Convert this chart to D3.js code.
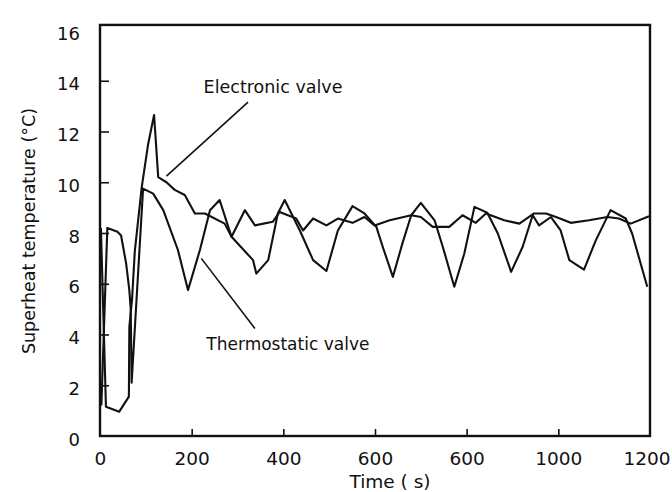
<!DOCTYPE html>
<html>
<head>
<meta charset="utf-8">
<script src="https://cdn.jsdelivr.net/npm/d3@7"></script>
<style>
  html, body { margin: 0; padding: 0; background: #ffffff; }
  svg { display: block; }
  text { font-family: "DejaVu Sans", sans-serif; fill: #111; }
</style>
</head>
<body>
<svg id="chart" width="672" height="492"></svg>
<script>
// ---- data ----
const electronicTime = [2, 13, 42, 63, 64, 70, 76, 91, 105, 118, 127, 145, 163, 185, 207, 229, 272, 287, 316, 338, 377, 392, 428, 443, 465, 494, 519, 551, 577, 599, 632, 679, 700, 726, 762, 791, 820, 842, 882, 915, 947, 973, 995, 1027, 1067, 1107, 1132, 1158, 1198];
const electronicTemp = [8.2, 1.15, 0.96, 1.55, 4.3, 5.4, 7.3, 9.8, 11.5, 12.65, 10.2, 10.0, 9.7, 9.5, 8.77, 8.77, 8.37, 7.85, 8.9, 8.3, 8.44, 8.83, 8.57, 8.1, 8.57, 8.3, 8.57, 8.4, 8.63, 8.3, 8.5, 8.7, 8.63, 8.24, 8.24, 8.7, 8.4, 8.77, 8.5, 8.37, 8.77, 8.77, 8.63, 8.4, 8.5, 8.63, 8.57, 8.37, 8.66];

const thermoTime = [3, 16, 38, 46, 57, 64, 67, 69, 94, 116, 138, 170, 192, 218, 240, 261, 287, 334, 341, 367, 388, 403, 436, 465, 494, 519, 551, 577, 603, 617, 639, 660, 679, 700, 730, 748, 773, 795, 817, 845, 868, 897, 922, 944, 958, 984, 1005, 1024, 1056, 1082, 1114, 1147, 1161, 1194];
const thermoTemp = [1.2, 8.2, 8.05, 7.9, 6.8, 5.75, 5.0, 2.1, 9.75, 9.55, 8.9, 7.33, 5.75, 7.33, 8.9, 9.3, 7.85, 6.93, 6.4, 6.93, 8.77, 9.3, 8.1, 6.93, 6.5, 8.1, 9.06, 8.77, 8.24, 7.45, 6.27, 7.6, 8.7, 9.19, 8.5, 7.45, 5.88, 7.2, 9.03, 8.8, 7.98, 6.47, 7.45, 8.7, 8.3, 8.63, 8.1, 6.93, 6.56, 7.72, 8.9, 8.57, 7.98, 5.88];

const xTickValues = [0, 200, 400, 600, 800, 1000, 1200];
const xTickLabels = ["0", "200", "400", "600", "600", "1000", "1200"];
const yTickValues = [0, 2, 4, 6, 8, 10, 12, 14, 16];

const xTitle = "Time ( s)";
const yTitle = "Superheat temperature (°C)";
const labelElectronic = "Electronic valve";
const labelThermo = "Thermostatic valve";

// ---- scales ----
const svg = d3.select("#chart");
const x = d3.scaleLinear().domain([0, 1200]).range([100, 650]);
const y = d3.scaleLinear().domain([0, 16]).range([436, 30]);
const yTop = y(16.2);

const ink = "#111";

// frame
svg.append("rect")
  .attr("x", x(0)).attr("y", yTop)
  .attr("width", x(1200) - x(0)).attr("height", y(0) - yTop)
  .attr("fill", "none").attr("stroke", ink).attr("stroke-width", 2.4);

// x axis ticks (inward) and labels
const xAxis = d3.axisBottom(x)
  .tickValues(xTickValues)
  .tickSizeInner(-7).tickSizeOuter(0)
  .tickPadding(16)
  .tickFormat((d, i) => xTickLabels[i]);
const gx = svg.append("g").attr("transform", `translate(0,${y(0)})`).call(xAxis);
gx.select(".domain").remove();
gx.selectAll(".tick line").attr("stroke", ink).attr("stroke-width", 1.6)
  .filter(d => d === 0 || d === 1200).remove();
gx.selectAll(".tick text").attr("font-size", 18.5).attr("font-family", "DejaVu Sans").attr("fill", ink);
gx.selectAll(".tick text").filter(d => d === 1200)
  .attr("text-anchor", "end").attr("x", 20);

// y axis ticks (inward) and labels
const yAxis = d3.axisLeft(y)
  .tickValues(yTickValues)
  .tickSizeInner(-9).tickSizeOuter(0)
  .tickPadding(20)
  .tickFormat(d3.format("d"));
const gy = svg.append("g").attr("transform", `translate(${x(0)},0)`).call(yAxis);
gy.select(".domain").remove();
gy.selectAll(".tick line").attr("stroke", ink).attr("stroke-width", 1.6)
  .filter(d => d === 0 || d === 16).remove();
gy.selectAll(".tick text").attr("font-size", 18).attr("font-family", "DejaVu Sans").attr("fill", ink).attr("dy", "0.5em");

// axis titles
svg.append("text")
  .attr("x", (x(0) + x(1200)) / 2 + 15).attr("y", 488)
  .attr("text-anchor", "middle").attr("font-size", 18.5)
  .text(xTitle);
svg.append("text")
  .attr("transform", `translate(35,${(y(0) + y(16)) / 2 - 2}) rotate(-90)`)
  .attr("text-anchor", "middle").attr("font-size", 17.5)
  .text(yTitle);

// series
const line = d3.line().x(d => x(d[0])).y(d => y(d[1]));
const electronic = electronicTime.map((t, i) => [t, electronicTemp[i]]);
const thermo = thermoTime.map((t, i) => [t, thermoTemp[i]]);

svg.append("path").datum(thermo)
  .attr("d", line).attr("fill", "none").attr("stroke", ink)
  .attr("stroke-width", 2.1).attr("stroke-linejoin", "round");
svg.append("path").datum(electronic)
  .attr("d", line).attr("fill", "none").attr("stroke", ink)
  .attr("stroke-width", 2.1).attr("stroke-linejoin", "round");

// annotations
svg.append("line")
  .attr("x1", x(323)).attr("y1", y(13.16))
  .attr("x2", x(145)).attr("y2", y(10.24))
  .attr("stroke", ink).attr("stroke-width", 1.6);
svg.append("text")
  .attr("x", x(226)).attr("y", y(13.5))
  .attr("font-size", 17.5)
  .text(labelElectronic);

svg.append("line")
  .attr("x1", x(221)).attr("y1", y(7.0))
  .attr("x2", x(338)).attr("y2", y(4.24))
  .attr("stroke", ink).attr("stroke-width", 1.6);
svg.append("text")
  .attr("x", x(232)).attr("y", y(3.39))
  .attr("font-size", 17)
  .text(labelThermo);
</script>
</body>
</html>
